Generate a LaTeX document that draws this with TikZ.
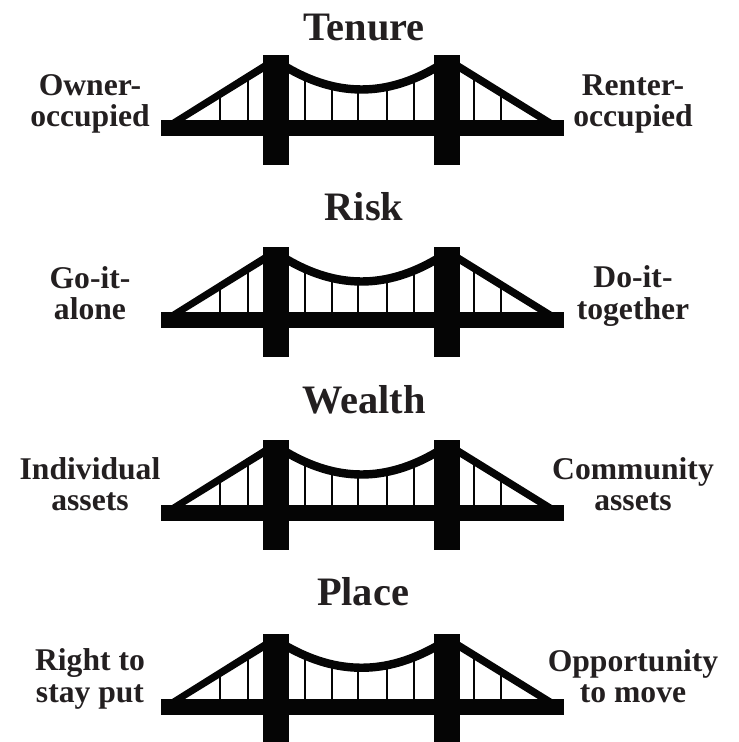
\documentclass[tikz,border=0pt]{standalone}
\usepackage{fontspec}
\setmainfont{Liberation Serif}
\definecolor{ink}{HTML}{231F20}
\definecolor{steel}{HTML}{050505}
\tikzset{
  heading/.style={inner sep=0pt,anchor=base,text=ink,font=\fontsize{23}{24}\selectfont\bfseries},
  side/.style={inner sep=0pt,align=center,text=ink,font=\fontsize{18}{18}\selectfont\bfseries},
  hanger/.style={draw=steel,line width=1.5pt},
  cable/.style={draw=steel,line width=4.8pt}
}
\begin{document}
\begin{tikzpicture}[x=0.02cm,y=0.02cm]
\useasboundingbox (0,0) rectangle (738,-742);
\node [heading] (tenure) at (364,-41) {Tenure};
\node [side] (owner) at (90,-104) {Owner-\\occupied};
\node [side] (renter) at (633,-104) {Renter-\\occupied};
\draw [hanger] (220,-96) -- (220,-120) (248,-78) -- (248,-120) (305,-77) -- (305,-120) (332,-86) -- (332,-120) (358,-89) -- (358,-120) (387,-87) -- (387,-120) (414,-79) -- (414,-120) (474,-78) -- (474,-120) (501,-96) -- (501,-120);
\fill [steel] (172,-120) -- (263,-63) -- (263,-72) -- (185,-120);
\fill [steel] (460,-63) -- (552,-120) -- (538,-120) -- (460,-72);
\draw [cable] (286,-67) .. controls (337,-97) and (386,-97) .. (437,-67);
\fill [steel] (161,-120) rectangle (564,-136);
\fill [steel] (263,-55) rectangle (289,-165);
\fill [steel] (434,-55) rectangle (460,-165);
\node [heading] (risk) at (364,-221) {Risk};
\node [side] (alone) at (90,-293) {Go-it-\\alone};
\node [side] (together) at (633,-296) {Do-it-\\together};
\draw [hanger] (220,-288) -- (220,-312) (248,-270) -- (248,-312) (305,-269) -- (305,-312) (332,-278) -- (332,-312) (358,-281) -- (358,-312) (387,-279) -- (387,-312) (414,-271) -- (414,-312) (474,-270) -- (474,-312) (501,-288) -- (501,-312);
\fill [steel] (172,-312) -- (263,-255) -- (263,-264) -- (185,-312);
\fill [steel] (460,-255) -- (552,-312) -- (538,-312) -- (460,-264);
\draw [cable] (286,-259) .. controls (337,-289) and (386,-289) .. (437,-259);
\fill [steel] (161,-312) rectangle (564,-328);
\fill [steel] (263,-247) rectangle (289,-357);
\fill [steel] (434,-247) rectangle (460,-357);
\node [heading] (wealth) at (364,-413) {Wealth};
\node [side] (individual) at (90,-484) {Individual\\assets};
\node [side] (community) at (633,-484) {Community\\assets};
\draw [hanger] (220,-481) -- (220,-505) (248,-463) -- (248,-505) (305,-462) -- (305,-505) (332,-471) -- (332,-505) (358,-474) -- (358,-505) (387,-472) -- (387,-505) (414,-464) -- (414,-505) (474,-463) -- (474,-505) (501,-481) -- (501,-505);
\fill [steel] (172,-505) -- (263,-448) -- (263,-457) -- (185,-505);
\fill [steel] (460,-448) -- (552,-505) -- (538,-505) -- (460,-457);
\draw [cable] (286,-452) .. controls (337,-482) and (386,-482) .. (437,-452);
\fill [steel] (161,-505) rectangle (564,-521);
\fill [steel] (263,-440) rectangle (289,-550);
\fill [steel] (434,-440) rectangle (460,-550);
\node [heading] (place) at (363,-605) {Place};
\node [side] (stay) at (90,-679) {Right to\\stay put};
\node [side] (move) at (633,-676) {Opportunity\\to move};
\draw [hanger] (220,-675) -- (220,-699) (248,-657) -- (248,-699) (305,-656) -- (305,-699) (332,-665) -- (332,-699) (358,-668) -- (358,-699) (387,-666) -- (387,-699) (414,-658) -- (414,-699) (474,-657) -- (474,-699) (501,-675) -- (501,-699);
\fill [steel] (172,-699) -- (263,-642) -- (263,-651) -- (185,-699);
\fill [steel] (460,-642) -- (552,-699) -- (538,-699) -- (460,-651);
\draw [cable] (286,-646) .. controls (337,-675) and (386,-675) .. (437,-646);
\fill [steel] (161,-699) rectangle (564,-715);
\fill [steel] (263,-634) rectangle (289,-742);
\fill [steel] (434,-634) rectangle (460,-742);
\end{tikzpicture}
\end{document}
